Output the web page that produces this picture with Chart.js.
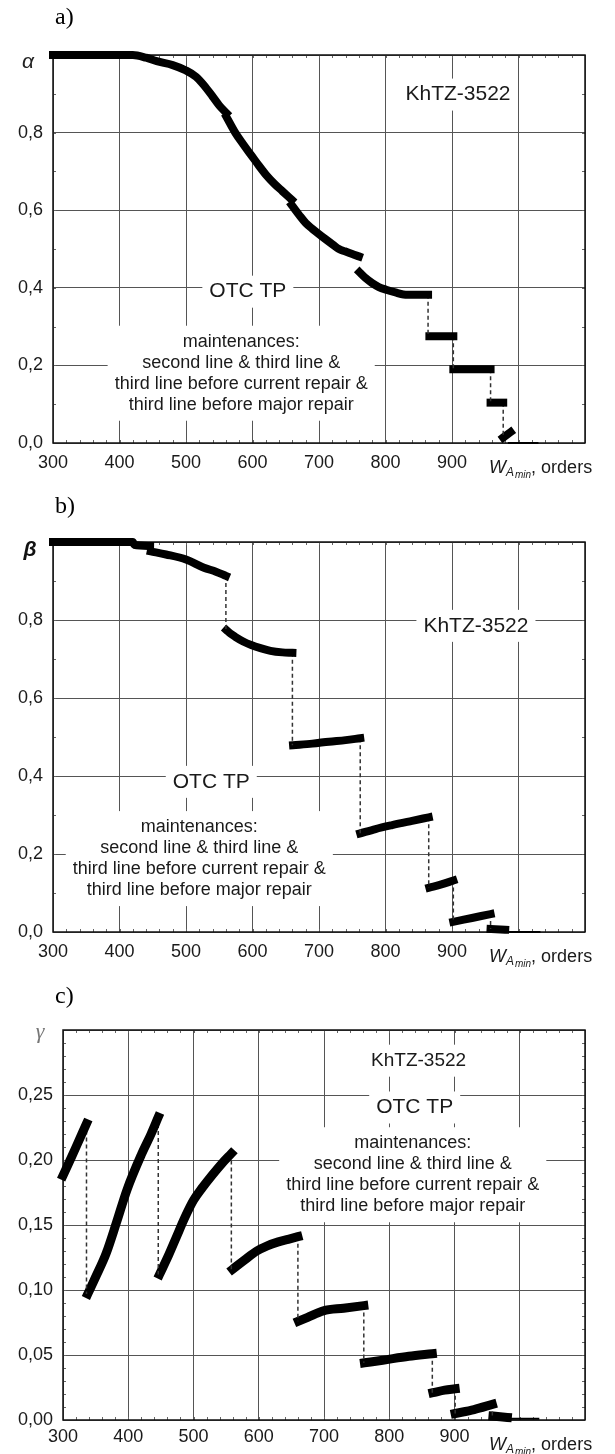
<!DOCTYPE html>
<html>
<head>
<meta charset="utf-8">
<script src="https://cdn.jsdelivr.net/npm/chart.js@4.4.0/dist/chart.umd.min.js"></script>
<style>
  body { margin: 0; background: #fff; width: 615px; height: 1454px; position: relative; overflow: hidden; }
  canvas { position: absolute; left: 0; }
</style>
</head>
<body>
<canvas id="chartA" width="615" height="480" style="top:0px"></canvas>
<canvas id="chartB" width="615" height="490" style="top:480px"></canvas>
<canvas id="chartC" width="615" height="484" style="top:970px"></canvas>
<script>
// x = W_A min, orders
var xTickLabels = [300, 400, 500, 600, 700, 800, 900];

// a) alpha
var alphaSegments = [
    [[300,1.0],[420,1.0],[440,0.993],[456,0.984],[480,0.974],[500,0.96],[515,0.944],[527,0.922],[540,0.893],
     [550,0.87],[561,0.85]],
    [[561,0.84],[574,0.80],[586,0.77],[598,0.742],[610,0.714],[621,0.69],[633,0.668],[645,0.649],[659,0.627]],
    [[659,0.613],[670,0.588],[680,0.567],[690,0.552],[698,0.541],[710,0.525],
     [721,0.511],[730,0.50],[739,0.494],[750,0.487],[760,0.481]],
    [[761,0.44],[770,0.425],[780,0.412],[790,0.402],[801,0.395],[815,0.388],[827,0.383],[845,0.382],[864,0.382]],
    [[866,0.275],[902,0.275]],
    [[902,0.19],[958,0.19]],
    [[958,0.104],[977,0.104]],
    [[977,0.014],[988,0.028]],
    [[984,0.0],[1030,0.0]]
];
var alphaDashed = [false, false, false, true, true, true, true, false];
var alphaTickLabels = ['0,0', '0,2', '0,4', '0,6', '0,8'];

// b) beta
var betaSegments = [
    [[300,1.0],[420,1.0],[422,0.993],[446,0.99]],
    [[447,0.976],[470,0.968],[500,0.955],[527,0.934],[545,0.924],[560,0.913]],
    [[561,0.774],[567,0.765],[574,0.757],[586,0.745],[598,0.736],[612,0.728],[627,0.721],[645,0.717],[660,0.716]],
    [[661,0.479],[690,0.483],[715,0.488],[740,0.492],[762,0.497]],
    [[762,0.253],[785,0.264],[810,0.274],[840,0.285],[865,0.294]],
    [[866,0.114],[884,0.122],[902,0.132]],
    [[902,0.026],[930,0.036],[958,0.046]],
    [[958,0.008],[980,0.006]],
    [[978,0.0],[1033,0.0]]
];
var betaDashed = [false, true, true, true, true, true, true, false];
var betaTickLabels = ['0,0', '0,2', '0,4', '0,6', '0,8'];

// c) gamma
var gammaSegments = [
    [[300,0.188],[310,0.199],[320,0.21],[336,0.228]],
    [[338,0.097],[350,0.11],[366,0.128],[382,0.152],[398,0.177],[420,0.204],[435,0.22],[446,0.233]],
    [[448,0.112],[462,0.127],[474,0.141],[487,0.156],[500,0.169],[514,0.179],[528,0.188],[543,0.197],[558,0.205]],
    [[560,0.116],[578,0.123],[597,0.13],[613,0.134],[630,0.137],[645,0.139],[660,0.141]],
    [[661,0.076],[675,0.079],[699,0.084],[730,0.086],[761,0.088]],
    [[762,0.044],[790,0.046],[830,0.049],[866,0.051]],
    [[867,0.021],[885,0.023],[901,0.024]],
    [[901,0.005],[930,0.008],[958,0.012]],
    [[959,0.003],[981,0.002]],
    [[978,0.001],[1030,0.001]]
];
var gammaDashed = [true, true, true, true, true, true, true, true, false];
var gammaTickLabels = ['0,00', '0,05', '0,10', '0,15', '0,20', '0,25'];

var maintLines = ['maintenances:', 'second line & third line &',
                  'third line before current repair &', 'third line before major repair'];

var FONT = '"Liberation Sans", Arial, sans-serif';

function buildDatasets(segments, dashed, width) {
    var sets = [];
    segments.forEach(function(seg, i) {
        var last = i === segments.length - 1;
        sets.push({
            data: seg.map(function(p) { return {x: p[0], y: p[1]}; }),
            borderColor: '#000',
            borderWidth: last ? 2 : width,
            borderCapStyle: last ? 'butt' : 'square',
            borderJoinStyle: 'round',
            pointRadius: 0,
            cubicInterpolationMode: 'monotone',
            clip: false
        });
        if (!last && dashed[i]) {
            var end = seg[seg.length - 1];
            var next = segments[i + 1][0];
            sets.push({
                data: [{x: end[0], y: end[1]}, {x: end[0], y: next[1]}],
                borderColor: '#333',
                borderWidth: 1.5,
                borderDash: [4, 3],
                pointRadius: 0,
                clip: false
            });
        }
    });
    return sets;
}

function makePlugin(cfg) {
    return {
        id: 'decor',
        beforeDatasetsDraw: function(chart) {
            var ctx = chart.ctx, a = chart.chartArea;
            var xs = chart.scales.x, ys = chart.scales.y;
            ctx.save();
            // small inner ticks
            ctx.strokeStyle = '#666';
            ctx.lineWidth = 1;
            ctx.beginPath();
            for (var v = 320; v < 1100; v += 20) {
                var px = Math.round(xs.getPixelForValue(v)) + 0.5;
                ctx.moveTo(px, a.top); ctx.lineTo(px, a.top + 3);
                ctx.moveTo(px, a.bottom); ctx.lineTo(px, a.bottom - 3);
            }
            for (var k = 1; k < cfg.minorCount; k++) {
                var py = Math.round(ys.getPixelForValue(k * cfg.minorStep)) + 0.5;
                ctx.moveTo(a.left, py); ctx.lineTo(a.left + 3, py);
                ctx.moveTo(a.right, py); ctx.lineTo(a.right - 3, py);
            }
            ctx.stroke();

            // annotation blocks with white backing
            cfg.notes.forEach(function(n) {
                ctx.font = n.size + 'px ' + FONT;
                var cx = xs.getPixelForValue(n.x);
                var cy = ys.getPixelForValue(n.y);
                var w = 0;
                n.lines.forEach(function(t) { w = Math.max(w, ctx.measureText(t).width); });
                var h = (n.lines.length - 1) * 21;
                ctx.fillStyle = '#fff';
                ctx.fillRect(cx - w / 2 - 7, cy - 16, w + 14, h + 32);
                ctx.fillStyle = '#1a1a1a';
                ctx.textAlign = 'center';
                ctx.textBaseline = 'middle';
                n.lines.forEach(function(t, i) { ctx.fillText(t, cx, cy + i * 21); });
            });

            // frame
            ctx.strokeStyle = '#111';
            ctx.lineWidth = 1.5;
            ctx.strokeRect(a.left, a.top, a.right - a.left, a.bottom - a.top);
            ctx.restore();
        },
        afterDraw: function(chart) {
            var ctx = chart.ctx;
            ctx.save();
            ctx.textBaseline = 'middle';
            ctx.textAlign = 'left';
            ctx.fillStyle = '#000';
            ctx.font = '24px "Liberation Serif", "Times New Roman", serif';
            ctx.fillText(cfg.letter, 55, cfg.letterY);

            ctx.fillStyle = cfg.greekColor;
            ctx.font = cfg.greekFont;
            ctx.textAlign = 'center';
            ctx.fillText(cfg.greek, cfg.greekX, cfg.greekY);

            // axis title W_A min, orders
            ctx.fillStyle = '#1a1a1a';
            ctx.textAlign = 'left';
            var x = 489, y = cfg.wY;
            ctx.font = 'italic 18px ' + FONT;
            ctx.fillText('W', x, y);
            x += ctx.measureText('W').width;
            ctx.font = 'italic 12px ' + FONT;
            ctx.fillText('A', x, y + 5);
            x += ctx.measureText('A').width + 1;
            ctx.font = 'italic 10px ' + FONT;
            ctx.fillText('min', x, y + 7);
            x += ctx.measureText('min').width;
            ctx.font = '18px ' + FONT;
            ctx.fillText(', orders', x, y);
            ctx.restore();
        }
    };
}

function initChart(id, segments, dashed, tickLabels, cfg) {
    var canvas = document.getElementById(id);
    new Chart(canvas.getContext('2d'), {
        type: 'line',
        data: { datasets: buildDatasets(segments, dashed, cfg.lineWidth) },
        options: {
            responsive: false,
            animation: false,
            layout: { padding: { top: cfg.padTop, right: 30, bottom: 0, left: 0 } },
            plugins: { legend: { display: false }, tooltip: { enabled: false } },
            scales: {
                x: {
                    type: 'linear',
                    min: 300, max: 1100,
                    border: { display: false },
                    grid: { color: '#555', lineWidth: 1, drawTicks: false },
                    ticks: {
                        stepSize: 100, autoSkip: false, maxRotation: 0, padding: cfg.xPad,
                        color: '#1a1a1a', font: { family: FONT, size: 18 },
                        callback: function(v) { return xTickLabels.indexOf(v) >= 0 ? String(v) : ''; }
                    },
                    afterFit: function(s) { s.height = cfg.xHeight; }
                },
                y: {
                    min: 0, max: cfg.yMax,
                    border: { display: false },
                    grid: { color: '#555', lineWidth: 1, drawTicks: false },
                    ticks: {
                        stepSize: cfg.yStep, padding: 10,
                        color: '#1a1a1a', font: { family: FONT, size: 18 },
                        callback: function(v, i) { return tickLabels[i] || ''; }
                    },
                    afterFit: function(s) { s.width = cfg.yWidth; }
                }
            }
        },
        plugins: [makePlugin(cfg)]
    });
}

document.addEventListener('DOMContentLoaded', function() {
    initChart('chartA', alphaSegments, alphaDashed, alphaTickLabels, {
        lineWidth: 8, padTop: 55, xHeight: 37, xPad: 9, yWidth: 53, yMax: 1, yStep: 0.2,
        minorStep: 0.1, minorCount: 10,
        letter: 'a)', letterY: 18,
        greek: '\u03B1', greekX: 28, greekY: 62, greekColor: '#222', greekFont: 'italic 21px ' + FONT,
        wY: 468,
        notes: [
            { lines: ['KhTZ-3522'], x: 909, y: 0.898, size: 21 },
            { lines: ['OTC TP'], x: 593, y: 0.39, size: 21 },
            { lines: maintLines, x: 583, y: 0.261, size: 18 }
        ]
    });
    initChart('chartB', betaSegments, betaDashed, betaTickLabels, {
        lineWidth: 8, padTop: 62, xHeight: 38, xPad: 9, yWidth: 53, yMax: 1, yStep: 0.2,
        minorStep: 0.1, minorCount: 10,
        letter: 'b)', letterY: 27,
        greek: '\u03B2', greekX: 30, greekY: 70, greekColor: '#111', greekFont: 'italic bold 21px ' + FONT,
        wY: 477,
        notes: [
            { lines: ['KhTZ-3522'], x: 936, y: 0.785, size: 21 },
            { lines: ['OTC TP'], x: 538, y: 0.385, size: 21 },
            { lines: maintLines, x: 520, y: 0.269, size: 18 }
        ]
    });
    initChart('chartC', gammaSegments, gammaDashed, gammaTickLabels, {
        lineWidth: 9, padTop: 60, xHeight: 34, xPad: 6, yWidth: 63, yMax: 0.30, yStep: 0.05,
        minorStep: 0.01, minorCount: 30,
        letter: 'c)', letterY: 27,
        greek: '\u03B3', greekX: 40, greekY: 62, greekColor: '#777', greekFont: 'italic 22px "Liberation Serif", serif',
        wY: 475,
        notes: [
            { lines: ['KhTZ-3522'], x: 845, y: 0.2764, size: 19 },
            { lines: ['OTC TP'], x: 839, y: 0.2404, size: 21 },
            { lines: maintLines, x: 836, y: 0.2129, size: 18 }
        ]
    });
});
</script>
</body>
</html>
